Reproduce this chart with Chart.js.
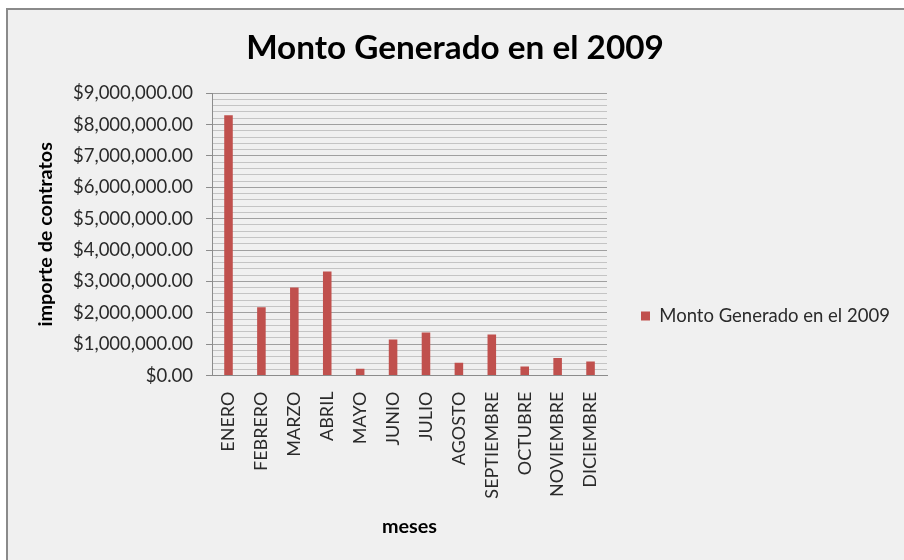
<!DOCTYPE html>
<html>
<head>
<meta charset="utf-8">
<script src="https://cdn.jsdelivr.net/npm/chart.js@4/dist/chart.umd.min.js"></script>
<style>
  html, body { margin: 0; padding: 0; background: #ffffff; }
  #wrap { position: relative; width: 904px; height: 560px; overflow: hidden; }
  #frame { position: absolute; left: 6px; top: 8px; width: 1000px; height: 1000px;
           background: #f0f0f0; border-left: 2px solid #8a8a8a; border-top: 2px solid #8a8a8a; }
  #c { position: absolute; left: 0; top: 0; }
</style>
</head>
<body>
<div id="wrap">
  <div id="frame"></div>
  <canvas id="c" width="904" height="560"></canvas>
</div>
<script>
const chartTitle = 'Monto Generado en el 2009';
const seriesLabel = 'Monto Generado en el 2009';
const categories = ['ENERO', 'FEBRERO', 'MARZO', 'ABRIL', 'MAYO', 'JUNIO', 'JULIO', 'AGOSTO', 'SEPTIEMBRE', 'OCTUBRE', 'NOVIEMBRE', 'DICIEMBRE'];
const montos = [8300000, 2180000, 2810000, 3320000, 220000, 1150000, 1370000, 410000, 1310000, 290000, 560000, 450000];
const yMin = 0;
const yMax = 9000000;
const yMajorStep = 1000000;
const yMinorStep = 200000;
const xAxisTitle = 'meses';
const yAxisTitle = 'importe de contratos';

const FONT = 'Lato, "Open Sans", sans-serif';
const LEGEND_SIZE = 18.5;
const LEGEND_PAD = 34;
const LEGEND_BOX = 9;
const AXIS_TITLE_SIZE = 19.8;

// layout helpers: plot right edge at 607, title centred at 455
const mctx = document.createElement('canvas').getContext('2d');
mctx.font = LEGEND_SIZE + 'px ' + FONT;
const legendTextW = mctx.measureText(seriesLabel).width;
const legendW = LEGEND_PAD + LEGEND_BOX + LEGEND_SIZE / 2 + legendTextW + 10;
const padR = Math.max(0, 904 - 607 - legendW);
const padL = padR + 6;
const yTitleLH = AXIS_TITLE_SIZE * 1.2;
const yTitleTop = Math.max(0, 46 - yTitleLH / 2 - padL);

function isMajor(v) {
  const r = v / yMajorStep;
  return Math.abs(r - Math.round(r)) < 1e-6;
}
function fmtMoney(v) {
  return '$' + v.toLocaleString('en-US', { minimumFractionDigits: 2, maximumFractionDigits: 2 });
}

new Chart(document.getElementById('c'), {
  type: 'bar',
  data: {
    labels: categories,
    datasets: [{
      label: seriesLabel,
      data: montos,
      backgroundColor: '#c0504d',
      borderWidth: 0,
      barPercentage: 0.26,
      categoryPercentage: 1.0
    }]
  },
  options: {
    responsive: false,
    animation: false,
    devicePixelRatio: 1,
    layout: { padding: { left: padL, right: padR, top: 0, bottom: 18 } },
    plugins: {
      title: {
        display: true,
        text: chartTitle,
        color: '#000000',
        font: { family: FONT, size: 33.3, weight: 'bold' },
        padding: { top: 28, bottom: 25.2 }
      },
      legend: {
        display: true,
        position: 'right',
        maxWidth: 400,
        title: {
          display: true,
          text: '',
          font: { family: FONT, size: 10 },
          padding: { top: 78, bottom: 0 }
        },
        labels: {
          boxWidth: LEGEND_BOX,
          boxHeight: LEGEND_BOX,
          padding: LEGEND_PAD,
          color: '#2a2a2a',
          font: { family: FONT, size: LEGEND_SIZE }
        }
      },
      tooltip: { enabled: false }
    },
    scales: {
      x: {
        grid: { display: false, drawTicks: false },
        border: { display: true, color: '#8c8c8c', width: 1 },
        ticks: {
          color: '#2a2a2a',
          font: { family: FONT, size: 18 },
          minRotation: 90,
          maxRotation: 90,
          autoSkip: false,
          padding: 16
        },
        title: {
          display: true,
          text: xAxisTitle,
          color: '#000000',
          font: { family: FONT, size: AXIS_TITLE_SIZE, weight: 'bold' },
          padding: { top: 0, bottom: 3.6 }
        }
      },
      y: {
        min: yMin,
        max: yMax,
        grid: {
          color: (ctx) => isMajor(ctx.tick.value) ? '#a0a0a0' : '#c4c4c4',
          tickColor: (ctx) => isMajor(ctx.tick.value) ? '#8c8c8c' : 'rgba(0,0,0,0)',
          lineWidth: 1,
          tickLength: 6,
          drawTicks: true
        },
        border: { display: true, color: '#8c8c8c', width: 1 },
        ticks: {
          stepSize: yMinorStep,
          maxTicksLimit: 100,
          autoSkip: false,
          color: '#2a2a2a',
          font: { family: FONT, size: 18.5 },
          padding: 13,
          callback: (v) => isMajor(v) ? fmtMoney(v) : ''
        },
        title: {
          display: true,
          text: yAxisTitle,
          color: '#000000',
          font: { family: FONT, size: AXIS_TITLE_SIZE, weight: 'bold' },
          padding: { top: yTitleTop, bottom: 2.1 }
        }
      }
    }
  }
});
</script>
</body>
</html>
